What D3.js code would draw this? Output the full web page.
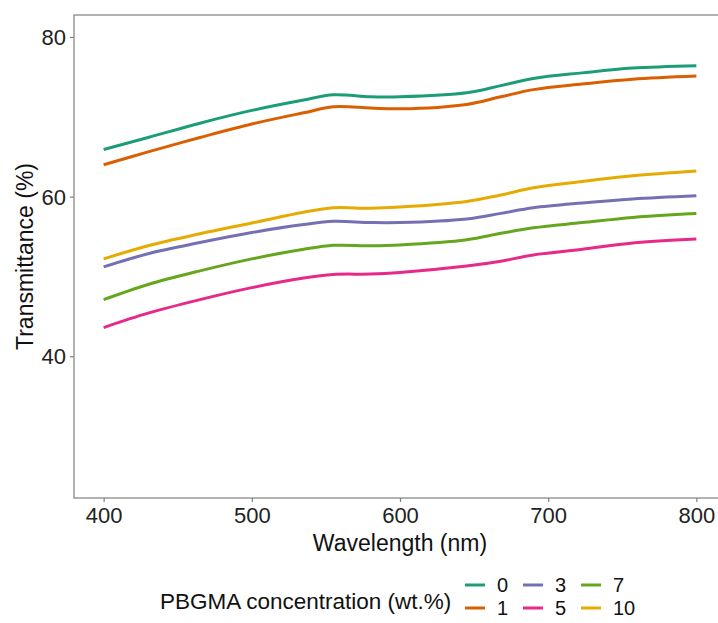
<!DOCTYPE html>
<html>
<head>
<meta charset="utf-8">
<script src="https://cdn.jsdelivr.net/npm/d3@7"></script>
<style>
  body { margin: 0; background: #fff; }
  svg { display: block; font-family: "Liberation Sans", Arial, sans-serif; }
</style>
</head>
<body>
<div id="chart"></div>
<script>
// wavelength sample points (nm)
const wavelength = [400, 430, 465, 500, 535, 555, 580, 600, 645, 668, 690, 723, 757, 800];

// transmittance (%) per PBGMA concentration
const t0  = [65.9, 67.4, 69.2, 70.8, 72.1, 72.75, 72.5, 72.5, 73.0, 73.9, 74.8, 75.5, 76.1, 76.4];
const t1  = [64.0, 65.6, 67.4, 69.1, 70.5, 71.25, 71.1, 71.0, 71.55, 72.5, 73.4, 74.1, 74.7, 75.1];
const t3  = [51.2, 52.85, 54.25, 55.5, 56.5, 56.9, 56.75, 56.75, 57.2, 57.9, 58.6, 59.2, 59.7, 60.1];
const t5  = [43.6, 45.4, 47.1, 48.6, 49.8, 50.25, 50.3, 50.5, 51.3, 51.9, 52.7, 53.4, 54.2, 54.7];
const t7  = [47.1, 49.0, 50.7, 52.2, 53.4, 53.9, 53.85, 53.95, 54.6, 55.4, 56.1, 56.75, 57.4, 57.9];
const t10 = [52.2, 53.85, 55.35, 56.7, 58.05, 58.6, 58.55, 58.7, 59.4, 60.2, 61.1, 61.9, 62.6, 63.2];

const concLabels = ["0", "1", "3", "5", "7", "10"];
const concValues = [t0, t1, t3, t5, t7, t10];
const colours    = ["#1B9E77", "#D95F02", "#7570B3", "#E7298A", "#66A61E", "#E6AB02"];

const xTicks = [400, 500, 600, 700, 800];
const yTicks = [40, 60, 80];

const W = 718, H = 623;
const P = { left: 74, right: 726, top: 15, bottom: 498 };

const x = d3.scaleLinear().domain([380, 820]).range([P.left, P.right]);
const y = d3.scaleLinear().domain([22.25, 82.75]).range([P.bottom, P.top]);

const svg = d3.select("#chart").append("svg").attr("width", W).attr("height", H);

// panel border
svg.append("rect")
  .attr("x", P.left).attr("y", P.top)
  .attr("width", P.right - P.left).attr("height", P.bottom - P.top)
  .attr("fill", "none").attr("stroke", "#7f7f7f").attr("stroke-width", 1.2);

// X axis
svg.append("g").attr("transform", `translate(0,${P.bottom})`)
  .call(d3.axisBottom(x).tickValues(xTicks).tickSize(4).tickPadding(5))
  .call(ax => ax.select(".domain").remove())
  .call(ax => ax.selectAll("line").attr("stroke", "#7f7f7f").attr("stroke-width", 1.2))
  .call(ax => ax.selectAll("text").attr("fill", "#222").attr("font-size", 22));

// Y axis
svg.append("g").attr("transform", `translate(${P.left},0)`)
  .call(d3.axisLeft(y).tickValues(yTicks).tickSize(4).tickPadding(4))
  .call(ax => ax.select(".domain").remove())
  .call(ax => ax.selectAll("line").attr("stroke", "#7f7f7f").attr("stroke-width", 1.2))
  .call(ax => ax.selectAll("text").attr("fill", "#222").attr("font-size", 22).attr("dy", "0.35em"));

// axis titles
svg.append("text")
  .attr("x", (P.left + P.right) / 2).attr("y", 551)
  .attr("text-anchor", "middle").attr("font-size", 23).attr("fill", "#111")
  .text("Wavelength (nm)");

svg.append("text")
  .attr("transform", `translate(33,${(P.top + P.bottom) / 2}) rotate(-90)`)
  .attr("text-anchor", "middle").attr("font-size", 23).attr("fill", "#111")
  .text("Transmittance (%)");

// clip lines to the panel
svg.append("clipPath").attr("id", "clip")
  .append("rect").attr("x", P.left).attr("y", P.top)
  .attr("width", P.right - P.left).attr("height", P.bottom - P.top);

const line = d3.line()
  .x((d, i) => x(wavelength[i]))
  .y(d => y(d))
  .curve(d3.curveCatmullRom.alpha(0.5));

const gLines = svg.append("g").attr("clip-path", "url(#clip)");
concValues.forEach((vals, k) => {
  gLines.append("path").datum(vals)
    .attr("d", line)
    .attr("fill", "none")
    .attr("stroke", colours[k])
    .attr("stroke-width", 3)
    .attr("stroke-linecap", "butt");
});

// legend
const lg = svg.append("g");
lg.append("text")
  .attr("x", 160).attr("y", 609)
  .attr("font-size", 22.5).attr("fill", "#111")
  .text("PBGMA concentration (wt.%)");

const colX = [465, 523, 581];
const rowY = [585, 608];
concLabels.forEach((lab, k) => {
  const c = Math.floor(k / 2), r = k % 2;
  lg.append("line")
    .attr("x1", colX[c]).attr("x2", colX[c] + 20)
    .attr("y1", rowY[r]).attr("y2", rowY[r])
    .attr("stroke", colours[k]).attr("stroke-width", 3);
  lg.append("text")
    .attr("x", colX[c] + 32).attr("y", rowY[r])
    .attr("dy", "0.36em")
    .attr("font-size", 20).attr("fill", "#111")
    .text(lab);
});
</script>
</body>
</html>
